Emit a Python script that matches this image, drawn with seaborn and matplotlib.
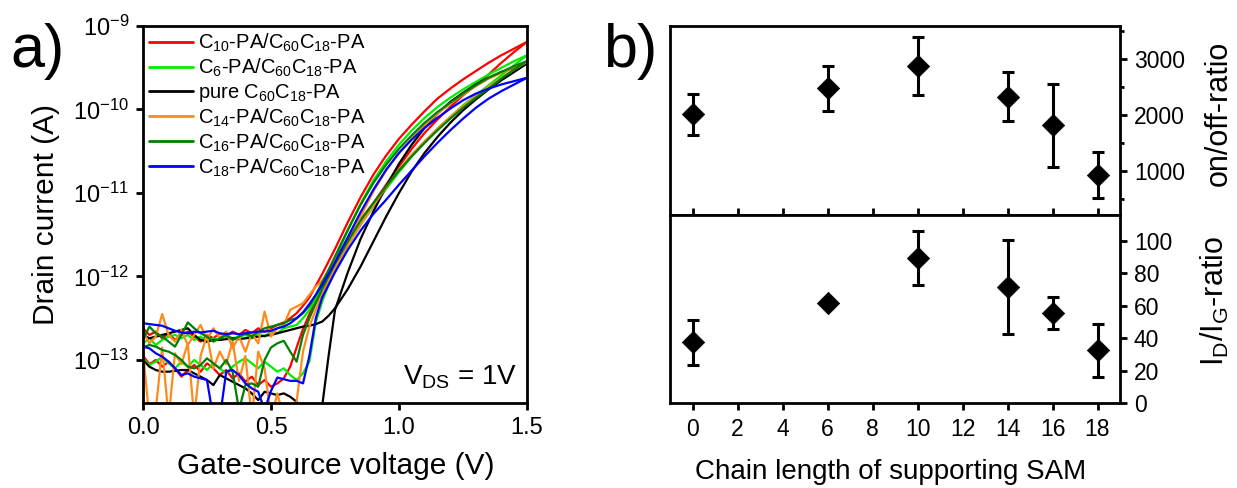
import numpy as np
import pandas as pd
import matplotlib
matplotlib.use("Agg")
import matplotlib.pyplot as plt
import seaborn as sns
from matplotlib.ticker import FixedLocator, NullLocator

# ---------------- data: panel a (log10 of drain current in A) ----------------
V_GS = [0.000, 0.025, 0.050, 0.075, 0.100, 0.125, 0.150, 0.175, 0.200, 0.225,
        0.250, 0.275, 0.300, 0.325, 0.350, 0.375, 0.400, 0.425, 0.450, 0.475,
        0.500, 0.525, 0.550, 0.575, 0.600, 0.625, 0.650, 0.675, 0.700, 0.725,
        0.750, 0.80, 0.85, 0.90, 0.95, 1.00, 1.05, 1.10, 1.15, 1.20, 1.25,
        1.30, 1.35, 1.40, 1.45, 1.50]

c10_up = [-12.62, -12.70, -12.66, -12.74, -12.68, -12.76, -12.70, -12.66, -12.72, -12.78,
          -12.70, -12.74, -12.68, -12.72, -12.66, -12.70, -12.64, -12.68, -12.62, -12.66,
          -12.62, -12.58, -12.55, -12.50, -12.44, -12.35, -12.25, -12.11, -11.97, -11.82,
          -11.67, -11.35, -11.05, -10.78, -10.55, -10.35, -10.18, -10.02, -9.87, -9.75,
          -9.64, -9.54, -9.44, -9.35, -9.27, -9.19]
c10_dn = [-12.95, -13.05, -13.00, -13.08, -13.02, -13.10, -13.20, -13.12, -13.06, -13.14,
          -13.04, -13.10, -13.18, -13.12, -13.22, -13.16, -13.26, -13.20, -13.30, -13.24,
          -13.32, -13.28, -13.22, -13.08, -12.85, -12.63, -12.45, -12.27, -12.10, -11.95,
          -11.80, -11.55, -11.32, -11.12, -10.90, -10.68, -10.47, -10.28, -10.12, -9.97,
          -9.83, -9.71, -9.58, -9.44, -9.31, -9.19]
c6_up = [-12.80, -12.74, -12.82, -12.76, -12.72, -12.70, -12.74, -12.70, -12.76, -12.72,
         -12.78, -12.74, -12.76, -12.70, -12.74, -12.72, -12.70, -12.74, -12.68, -12.72,
         -12.66, -12.68, -12.62, -12.60, -12.58, -12.50, -12.40, -12.26, -12.10, -11.94,
         -11.78, -11.45, -11.13, -10.85, -10.62, -10.42, -10.25, -10.10, -9.97, -9.86,
         -9.76, -9.67, -9.58, -9.50, -9.42, -9.35]
c6_dn = [-12.98, -13.06, -13.02, -12.96, -13.04, -13.10, -13.02, -13.08, -13.00, -13.06,
         -13.12, -13.04, -13.10, -13.16, -13.08, -13.02, -12.98, -13.04, -13.10, -13.02,
         -13.08, -13.14, -13.10, -13.18, -13.24, -13.16, -13.02, -12.55, -12.30, -12.10,
         -11.92, -11.62, -11.38, -11.16, -10.95, -10.75, -10.56, -10.39, -10.23, -10.09,
         -9.95, -9.83, -9.71, -9.59, -9.47, -9.35]
pure_up = [-12.70, -12.74, -12.72, -12.70, -12.68, -12.66, -12.64, -12.62, -12.70, -12.76,
           -12.78, -12.76, -12.76, -12.75, -12.74, -12.75, -12.74, -12.73, -12.72, -12.71,
           -12.70, -12.68, -12.66, -12.64, -12.62, -12.60, -12.59, -12.57, -12.54, -12.47,
           -12.38, -12.15, -11.88, -11.58, -11.28, -11.00, -10.74, -10.52, -10.33, -10.16,
           -10.01, -9.88, -9.76, -9.65, -9.55, -9.45]
pure_dn = [-13.00, -13.08, -13.12, -13.14, -13.14, -13.13, -13.12, -13.12, -13.16, -13.20,
           -13.24, -13.30, -13.18, -13.22, -13.26, -13.30, -13.34, -13.40, -13.48, -13.38,
           -13.40, -13.42, -13.40, -13.44, -13.50, -13.60, -13.80, -13.80, -13.55, -12.95,
           -12.40, -11.95, -11.55, -11.22, -10.92, -10.65, -10.42, -10.22, -10.05, -9.91,
           -9.80, -9.70, -9.62, -9.55, -9.50, -9.45]
c14_up = [-12.66, -12.80, -12.72, -12.45, -12.70, -12.78, -12.64, -12.82, -12.70, -12.58,
          -12.76, -12.62, -12.74, -12.66, -12.86, -12.72, -12.90, -12.68, -12.80, -12.42,
          -12.72, -12.62, -12.58, -12.40, -12.36, -12.32, -12.22, -12.12, -12.05, -11.93,
          -11.80, -11.60, -11.28, -10.98, -10.73, -10.52, -10.35, -10.19, -10.05, -9.93,
          -9.82, -9.72, -9.63, -9.56, -9.49, -9.43]
c14_dn = [-12.90, -13.70, -13.60, -12.85, -13.70, -12.92, -13.05, -12.80, -13.70, -12.95,
          -12.70, -13.10, -12.90, -13.05, -12.78, -13.25, -12.95, -13.70, -12.90, -13.10,
          -13.70, -13.40, -13.70, -13.60, -13.50, -12.90, -12.60, -12.40, -12.20, -12.05,
          -11.90, -11.63, -11.38, -11.15, -10.93, -10.72, -10.54, -10.38, -10.23, -10.09,
          -9.96, -9.84, -9.73, -9.62, -9.52, -9.43]
c16_up = [-12.76, -12.60, -12.68, -12.72, -12.78, -12.84, -12.70, -12.55, -12.62, -12.68,
          -12.72, -12.78, -12.74, -12.70, -12.76, -12.72, -12.68, -12.72, -12.66, -12.62,
          -12.60, -12.58, -12.56, -12.52, -12.50, -12.44, -12.35, -12.22, -12.07, -11.92,
          -11.76, -11.44, -11.14, -10.88, -10.66, -10.47, -10.31, -10.16, -10.03, -9.92,
          -9.81, -9.71, -9.62, -9.55, -9.48, -9.42]
c16_dn = [-12.85, -12.82, -12.84, -12.88, -12.90, -12.94, -13.00, -13.08, -13.10, -13.06,
          -12.98, -13.04, -13.10, -13.00, -13.14, -13.60, -13.30, -13.28, -13.32, -13.00,
          -12.85, -12.80, -12.77, -12.90, -13.02, -12.70, -12.50, -12.32, -12.15, -12.00,
          -11.85, -11.58, -11.33, -11.12, -10.92, -10.73, -10.56, -10.40, -10.25, -10.11,
          -9.98, -9.86, -9.75, -9.63, -9.52, -9.42]
c18_up = [-12.56, -12.57, -12.58, -12.59, -12.62, -12.65, -12.67, -12.68, -12.66, -12.67,
          -12.66, -12.65, -12.68, -12.69, -12.68, -12.69, -12.68, -12.67, -12.66, -12.66,
          -12.65, -12.62, -12.60, -12.56, -12.50, -12.43, -12.33, -12.22, -12.10, -11.97,
          -11.83, -11.53, -11.23, -10.96, -10.72, -10.52, -10.36, -10.22, -10.10, -9.99,
          -9.89, -9.81, -9.75, -9.70, -9.66, -9.62]
c18_dn = [-12.84, -12.86, -12.92, -12.96, -13.02, -13.10, -13.18, -13.16, -13.20, -13.22,
          -13.24, -13.70, -13.70, -13.14, -13.12, -13.18, -13.28, -13.34, -13.38, -13.60,
          -13.37, -13.21, -13.23, -13.25, -13.25, -13.28, -12.95, -12.50, -12.25, -12.10,
          -11.95, -11.68, -11.45, -11.25, -11.08, -10.90, -10.73, -10.56, -10.40, -10.25,
          -10.11, -9.98, -9.87, -9.78, -9.70, -9.62]

device_labels = [r'C$_{10}$-PA/C$_{60}$C$_{18}$-PA',
                 r'C$_{6}$-PA/C$_{60}$C$_{18}$-PA',
                 r'pure C$_{60}$C$_{18}$-PA',
                 r'C$_{14}$-PA/C$_{60}$C$_{18}$-PA',
                 r'C$_{16}$-PA/C$_{60}$C$_{18}$-PA',
                 r'C$_{18}$-PA/C$_{60}$C$_{18}$-PA']
device_colors = ['#ff0000', '#00ee00', '#000000', '#ff8a1c', '#008000', '#0000ff']
device_sweeps = [(c10_up, c10_dn), (c6_up, c6_dn), (pure_up, pure_dn),
                 (c14_up, c14_dn), (c16_up, c16_dn), (c18_up, c18_dn)]

# ---------------- data: panel b ----------------
chain_length = [0, 6, 10, 14, 16, 18]
onoff_ratio = [2010, 2480, 2870, 2330, 1820, 925]
onoff_err = [360, 400, 520, 440, 740, 410]
idig_ratio = [37.5, 61.5, 89.5, 71.5, 55.5, 32.5]
idig_err = [14, 2.5, 16.5, 29, 10, 16.5]

# ---------------- style ----------------
sns.set_theme(style="ticks")
plt.rcParams['font.family'] = ['Liberation Sans', 'DejaVu Sans']
plt.rcParams['mathtext.default'] = 'regular'
plt.rcParams['axes.edgecolor'] = 'black'
plt.rcParams['axes.linewidth'] = 2.0
plt.rcParams['xtick.color'] = 'black'
plt.rcParams['ytick.color'] = 'black'
plt.rcParams['text.color'] = 'black'
plt.rcParams['axes.labelcolor'] = 'black'

fig = plt.figure(figsize=(12.37, 4.88), dpi=100)
W, H = 1237.0, 488.0

def box(l, t, r, b):
    return [l / W, 1 - b / H, (r - l) / W, (b - t) / H]

# ---------------- panel a ----------------
axa = fig.add_axes(box(143, 26, 527, 403))
rows = []
for lab, (up, dn) in zip(device_labels, device_sweeps):
    for br, vals in (('up', up), ('dn', dn)):
        for v, lg in zip(V_GS, vals):
            rows.append({'V': v, 'I': 10.0 ** lg, 'device': lab, 'sweep': br})
df = pd.DataFrame(rows)
sns.lineplot(data=df, x='V', y='I', hue='device', units='sweep', estimator=None,
             hue_order=device_labels, palette=device_colors, lw=1.6, ax=axa,
             sort=False, legend=True)
axa.set_yscale('log')
axa.set_xlim(0, 1.5)
axa.set_ylim(10 ** -13.515, 1e-9)
axa.yaxis.set_major_locator(FixedLocator([1e-13, 1e-12, 1e-11, 1e-10, 1e-9]))
axa.yaxis.set_minor_locator(NullLocator())
axa.set_yticklabels([r'$10^{-13}$', r'$10^{-12}$', r'$10^{-11}$', r'$10^{-10}$', r'$10^{-9}$'])
axa.set_xticks([0, 0.5, 1.0, 1.5])
axa.set_xticklabels(['0.0', '0.5', '1.0', '1.5'])
axa.tick_params(axis='both', which='major', direction='out', length=5, width=2,
                labelsize=17, pad=5)
axa.tick_params(top=False, right=False)
axa.set_xlabel('Gate-source voltage (V)', fontsize=21.5)
axa.set_ylabel('Drain current (A)', fontsize=21.5)
axa.xaxis.set_label_coords(0.503, -0.13)
axa.yaxis.set_label_coords(-0.215, 0.5)
for s in axa.spines.values():
    s.set_visible(True)
    s.set_linewidth(2)

handles, labels = axa.get_legend_handles_labels()
leg = axa.legend(handles, labels, loc='upper left', bbox_to_anchor=(0.0, 1.0),
                 frameon=False, fontsize=14.5, handlelength=2.2, handletextpad=0.25,
                 labelspacing=0.13, borderaxespad=0.15, borderpad=0.15)
for h in leg.get_lines():
    h.set_linewidth(2)

axa.text(0.974, 0.048, r'V$_{DS}$ = 1V', transform=axa.transAxes, fontsize=20,
         ha='right', va='baseline')

# ---------------- panel b ----------------
axb1 = fig.add_axes(box(670, 26, 1120, 215))
axb2 = fig.add_axes(box(670, 215, 1120, 403), sharex=axb1)

for ax, y, e in ((axb1, onoff_ratio, onoff_err), (axb2, idig_ratio, idig_err)):
    ax.errorbar(chain_length, y, yerr=e, fmt='none', ecolor='black',
                elinewidth=2.2, capsize=4, capthick=2.2, zorder=2)
    sns.scatterplot(x=chain_length, y=y, marker='D', s=130, color='black',
                    edgecolor='black', linewidth=0.5, ax=ax, zorder=3, legend=False)
    for s in ax.spines.values():
        s.set_visible(True)
        s.set_linewidth(2)
    ax.yaxis.tick_right()
    ax.yaxis.set_label_position('right')
    ax.tick_params(axis='y', which='both', left=False, right=True, labelright=True,
                   labelleft=False, direction='out', width=2, labelsize=16.5, pad=5)
    ax.tick_params(axis='y', which='major', length=5)
    ax.tick_params(axis='y', which='minor', length=3)

axb1.set_xlim(-1, 19)
axb1.set_xticks(range(0, 20, 2))
axb1.set_ylim(215, 3590)
axb1.yaxis.set_major_locator(FixedLocator([1000, 2000, 3000]))
axb1.yaxis.set_minor_locator(FixedLocator([500, 1500, 2500, 3500]))
axb1.tick_params(axis='x', which='major', bottom=True, top=False, labelbottom=False,
                 direction='inout', length=10, width=2)
axb1.set_ylabel('on/off-ratio', fontsize=22)
axb1.yaxis.set_label_coords(1.185, 0.54)
axb1.set_xlabel('')

axb2.set_ylim(0, 116)
axb2.yaxis.set_major_locator(FixedLocator([0, 20, 40, 60, 80, 100]))
axb2.yaxis.set_minor_locator(NullLocator())
axb2.tick_params(axis='x', which='major', bottom=True, top=False, labelbottom=True,
                 direction='out', length=5, width=2, labelsize=16.5, pad=6)
axb2.set_ylabel(r'I$_D$/I$_G$-ratio', fontsize=22)
axb2.yaxis.set_label_coords(1.175, 0.54)
axb2.set_xlabel('Chain length of supporting SAM', fontsize=20)
axb2.xaxis.set_label_coords(0.49, -0.30)

# panel letters
fig.text(10 / W, 1 - 52 / H, 'a)', fontsize=44, ha='left', va='center')
fig.text(603 / W, 1 - 52 / H, 'b)', fontsize=44, ha='left', va='center')

fig.savefig('out.png', dpi=100)
